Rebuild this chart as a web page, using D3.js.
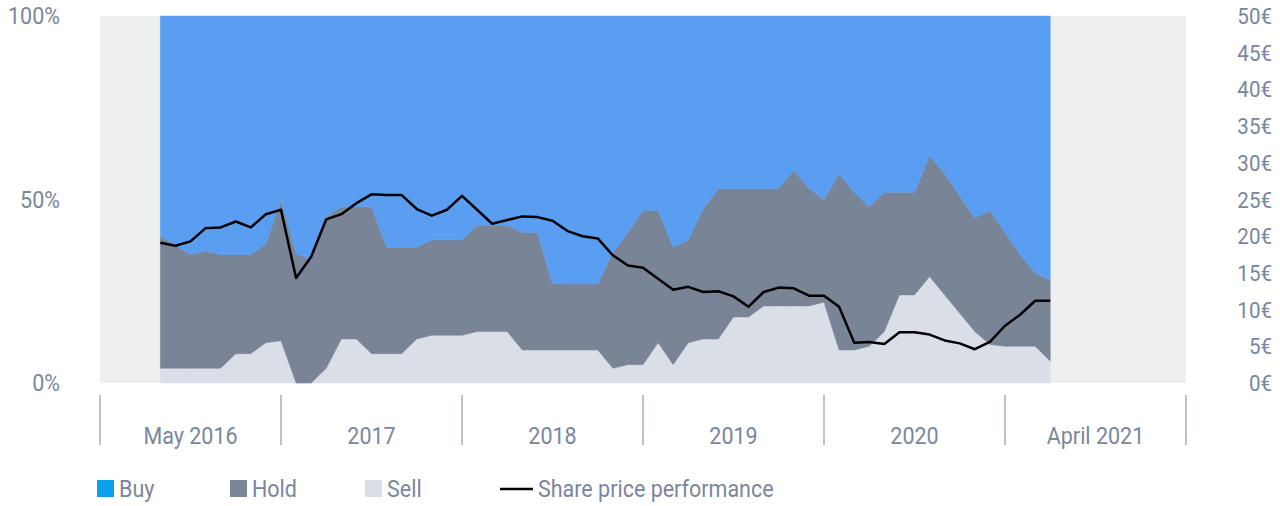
<!DOCTYPE html>
<html>
<head>
<meta charset="utf-8">
<script src="https://cdn.jsdelivr.net/npm/d3@7"></script>
<style>
  html, body { margin: 0; padding: 0; background: #ffffff; }
  svg { display: block; }
  text { font-family: Roboto, "Noto Sans", sans-serif; fill: #7a869c; }
</style>
</head>
<body>
<svg id="chart" width="1280" height="506"></svg>
<script>
// ---- data ----
const startMonth = new Date(2016, 4, 1);   // May 2016
const endMonth = new Date(2021, 4, 1);     // exclusive -> last is April 2021
const months = d3.timeMonth.range(startMonth, endMonth);

const sellPct = [4,4,4,4,4,8,8,11,11.5,0,0,4,12,12,8,
  8,8,12,13,13,13,14,14,14,9,9,9,9,9,9,4,5,
  5,11,5,11,12,12,18,18,21,21,21,21,22,9,
  9,10,14,24,24,29,24,19,14,10.5,10,10,10,6];
const holdPct = [36,33.6,31,32,31,27,27,27,38.2,35.3,33.5,41.3,36,36,40,
  29,29,25,26,26,26,29,29,29,32,32,18,18,18,18,31.5,36,
  42,36,32,28,35.6,41,35,35,32,32,37,32,28,48,
  43,38,38,28,28,33,33,32,31,36.5,31,25,20,22];
const buyPct = holdPct.map((h, i) => 100 - h - sellPct[i]);
const sharePrice = [19.1,18.7,19.3,21.1,21.2,22,21.2,23,23.6,14.3,17.2,22.3,23,24.5,25.7,25.6,
  25.6,23.7,22.8,23.6,25.5,23.6,21.7,22.2,22.7,22.6,22.1,20.7,20,19.7,17.4,16,
  15.7,14.2,12.7,13.1,12.4,12.5,11.8,10.4,12.4,13,12.9,11.9,11.9,10.4,
  5.5,5.6,5.3,6.9,6.9,6.6,5.8,5.4,4.6,5.6,7.8,9.3,11.2,11.2];

const xTickLabels = ["May 2016", "2017", "2018", "2019", "2020", "April 2021"];
const leftTicks = [0, 50, 100];
const rightTicks = [0,5,10,15,20,25,30,35,40,45,50];
const seriesKeys = ["sell", "hold", "buy"];
const legendItems = [
  {label: "Buy", color: "#0aa0ee", type: "box"},
  {label: "Hold", color: "#7a869a", type: "box"},
  {label: "Sell", color: "#d9dde7", type: "box"},
  {label: "Share price performance", color: "#000000", type: "line"}
];
const areaColors = {buy: "#599ef1", hold: "#7a8497", sell: "#dadee7"};

// ---- layout ----
const L = 100, R = 1186, T = 16, B = 383;
const sx = 0.935;
const svg = d3.select("#chart");

const domainStart = new Date(2016, 0, 1);
const monthIdx = d => d3.timeMonth.count(domainStart, d);
const x = d3.scaleLinear().domain([0, 72]).range([L, R]);
const y = d3.scaleLinear().domain([0, 100]).range([B, T]);
const y2 = d3.scaleLinear().domain([0, 50]).range([B, T]);

const rows = months.map((m, i) => ({m: monthIdx(m), sell: sellPct[i], hold: holdPct[i], buy: buyPct[i], price: sharePrice[i]}));

function label(g, px, py, txt, anchor, size) {
  return g.append("text")
    .attr("transform", `translate(${px},${py}) scale(${sx},1)`)
    .attr("text-anchor", anchor)
    .attr("font-size", size || 23)
    .text(txt);
}

// background
svg.append("rect").attr("x", L).attr("y", T).attr("width", R - L).attr("height", B - T).attr("fill", "#eef0ef");

// stacked areas
const stack = d3.stack().keys(seriesKeys);
const layers = stack(rows);
const area = d3.area()
  .x(d => x(d.data.m))
  .y0(d => y(d[0]))
  .y1(d => y(d[1]));
svg.append("g").selectAll("path").data(layers).join("path")
  .attr("d", area)
  .attr("fill", d => areaColors[d.key])
  .attr("stroke", d => areaColors[d.key])
  .attr("stroke-width", 0.5);

// price line
const line = d3.line().x(d => x(d.m)).y(d => y2(d.price));
svg.append("path").datum(rows).attr("d", line)
  .attr("fill", "none").attr("stroke", "#000").attr("stroke-width", 2.5).attr("stroke-linejoin", "round");

// left axis labels
const gl = svg.append("g");
leftTicks.forEach(t => label(gl, 60, y(t) + 8, t + "%", "end"));

// right axis labels
const gr = svg.append("g");
rightTicks.forEach(t => label(gr, 1272, y2(t) + 8, t + "€", "end", 22));

// bottom axis
const gb = svg.append("g");
const yearTicks = d3.range(0, 73, 12);
gb.selectAll("line").data(yearTicks).join("line")
  .attr("x1", d => x(d)).attr("x2", d => x(d))
  .attr("y1", 395).attr("y2", 445)
  .attr("stroke", "#a7afbd").attr("stroke-width", 1.5);
xTickLabels.forEach((t, i) => label(gb, x(i * 12 + 6), 444, t, "middle"));

// legend
const legendX = [97, 230, 365, 500];
const lg = svg.append("g");
legendItems.forEach((it, i) => {
  const lx = legendX[i];
  if (it.type === "box") {
    lg.append("rect").attr("x", lx).attr("y", 480).attr("width", 17).attr("height", 17).attr("fill", it.color);
    label(lg, lx + 22, 497, it.label, "start");
  } else {
    lg.append("line").attr("x1", lx).attr("x2", lx + 33).attr("y1", 489).attr("y2", 489)
      .attr("stroke", it.color).attr("stroke-width", 2.5);
    label(lg, lx + 38, 497, it.label, "start");
  }
});
</script>
</body>
</html>
